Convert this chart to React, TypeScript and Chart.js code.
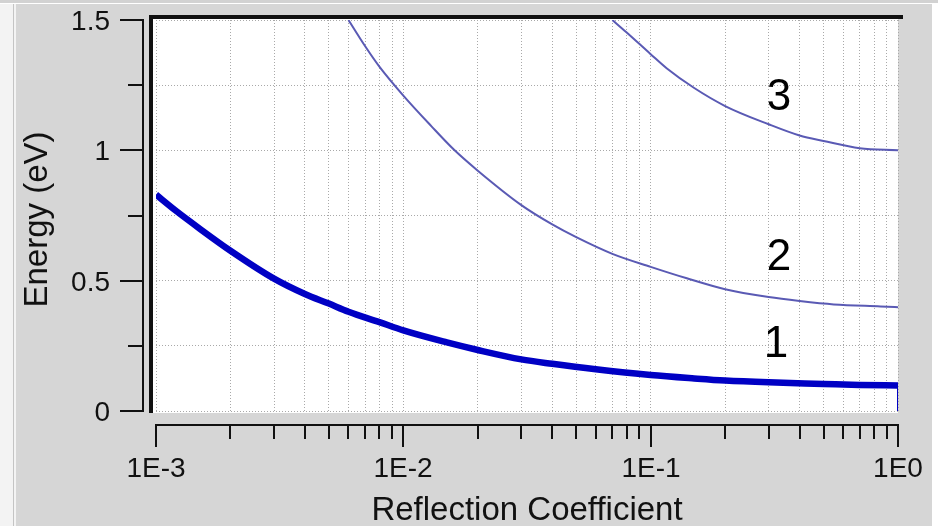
import React, { useEffect, useRef } from 'react';
import { Chart, registerables } from 'chart.js';

Chart.register(...registerables);

// ---- data ----
const curve1R = [0.001, 0.0012, 0.0015, 0.002, 0.003, 0.004, 0.005, 0.006, 0.008, 0.01, 0.015, 0.02, 0.03, 0.04, 0.06, 0.1, 0.15, 0.2, 0.3, 0.5, 0.7, 1];
const curve1E = [0.83, 0.769, 0.7, 0.615, 0.508, 0.449, 0.412, 0.381, 0.341, 0.309, 0.263, 0.234, 0.198, 0.181, 0.16, 0.138, 0.125, 0.117, 0.11, 0.104, 0.1, 0.098];

const curve2R = [0.006, 0.007, 0.008, 0.01, 0.013, 0.016, 0.02, 0.03, 0.04, 0.05, 0.07, 0.1, 0.14, 0.2, 0.3, 0.4, 0.55, 0.85, 1];
const curve2E = [1.5, 1.4, 1.321, 1.21, 1.092, 1.003, 0.922, 0.79, 0.716, 0.667, 0.603, 0.553, 0.509, 0.467, 0.437, 0.422, 0.409, 0.401, 0.398];

const curve3R = [0.07, 0.08, 0.1, 0.116, 0.15, 0.2, 0.3, 0.4, 0.5, 0.7, 1];
const curve3E = [1.5, 1.452, 1.369, 1.315, 1.239, 1.17, 1.1, 1.057, 1.036, 1.008, 1.0];

// vertical drop of curve 1 at R = 1
const dropR = [1, 1];
const dropE = [0.098, 0];

const curveNames = ['1', '2', '3'];

const xMajorValues = [0.001, 0.01, 0.1, 1];
const xTickLabels = ['1E-3', '1E-2', '1E-1', '1E0'];
const xMinorValues = [
  0.002, 0.003, 0.004, 0.005, 0.006, 0.007, 0.008, 0.009,
  0.02, 0.03, 0.04, 0.05, 0.06, 0.07, 0.08, 0.09,
  0.2, 0.3, 0.4, 0.5, 0.6, 0.7, 0.8, 0.9,
];
const yTickValues = [0, 0.25, 0.5, 0.75, 1, 1.25, 1.5];
const yTickLabels = ['0', '', '0.5', '', '1', '', '1.5'];

const xTitle = 'Reflection Coefficient';
const yTitle = 'Energy (eV)';

const FONT = '"Liberation Sans", Arial, Helvetica, sans-serif';

const toPoints = (xs: number[], ys: number[]) => xs.map((x, i) => ({ x, y: ys[i] }));

const framePlugin = {
  id: 'frameAndAxes',
  beforeDraw(chart: any) {
    const { ctx, chartArea: ca, width, height } = chart;
    ctx.save();
    ctx.fillStyle = '#f3f3f3';
    ctx.fillRect(0, 0, width, height);
    ctx.fillStyle = '#d2d2d2';
    ctx.fillRect(0, 0, width, 3);
    ctx.fillStyle = '#ffffff';
    ctx.fillRect(0, 3, width, 1);
    ctx.fillStyle = '#d6d6d6';
    ctx.fillRect(16, 4, 916, height - 4);
    ctx.fillStyle = '#ffffff';
    ctx.fillRect(932, 4, width - 932, height - 4);
    ctx.fillStyle = '#c4c4c4';
    ctx.fillRect(13, 4, 1, height - 4);
    // plot area
    ctx.fillStyle = '#ffffff';
    ctx.fillRect(ca.left - 3, ca.top - 2, ca.right - ca.left + 3, ca.bottom - ca.top + 4);
    ctx.restore();
  },
  afterDraw(chart: any) {
    const { ctx, chartArea: ca } = chart;
    const xs = chart.scales.x;
    const ys = chart.scales.y;
    ctx.save();
    ctx.fillStyle = '#111111';

    // thick frame (top and left)
    ctx.fillRect(ca.left - 7, ca.top - 5, ca.right - ca.left + 12, 4);
    ctx.fillRect(ca.left - 7, ca.top - 5, 4, ca.bottom - ca.top + 7);

    // detached Y axis
    const axX = Math.round(ca.left) - 13;
    const yTop = Math.round(ys.getPixelForValue(yTickValues[yTickValues.length - 1]));
    const yBot = Math.round(ys.getPixelForValue(yTickValues[0]));
    ctx.fillRect(axX - 1, yTop - 1, 2, yBot - yTop + 2);
    ctx.font = '28px ' + FONT;
    ctx.textAlign = 'right';
    ctx.textBaseline = 'alphabetic';
    yTickValues.forEach((v, i) => {
      const py = Math.round(ys.getPixelForValue(v));
      const major = yTickLabels[i] !== '';
      const len = major ? 23 : 15;
      ctx.fillRect(axX - len, py - 1, len, 2);
      if (major) ctx.fillText(yTickLabels[i], axX - 33, py + 10);
    });

    // detached X axis
    const axY = Math.round(ca.bottom) + 14;
    const xL = Math.round(xs.getPixelForValue(xMajorValues[0]));
    const xR = Math.round(xs.getPixelForValue(xMajorValues[xMajorValues.length - 1]));
    ctx.fillRect(xL - 1, axY - 1, xR - xL + 2, 2);
    xMinorValues.forEach((v) => {
      const px = Math.round(xs.getPixelForValue(v));
      ctx.fillRect(px - 1, axY - 1, 2, 15);
    });
    ctx.textAlign = 'center';
    xMajorValues.forEach((v, i) => {
      const px = Math.round(xs.getPixelForValue(v));
      ctx.fillRect(px - 1, axY - 1, 2, 23);
      ctx.fillText(xTickLabels[i], px, axY + 52);
    });

    // axis titles
    ctx.font = '33px ' + FONT;
    ctx.fillText(xTitle, (xL + xR) / 2, axY + 95);
    ctx.save();
    ctx.translate(47, (yTop + yBot) / 2 + 4);
    ctx.rotate(-Math.PI / 2);
    ctx.textAlign = 'center';
    ctx.fillText(yTitle, 0, 0);
    ctx.restore();

    // curve labels
    ctx.font = '44px ' + FONT;
    ctx.fillStyle = '#000000';
    ctx.textAlign = 'center';
    const labelX = xs.getPixelForValue(0.33);
    const labelE = [0.208, 0.541, 1.155];
    curveNames.forEach((n, i) => {
      ctx.fillText(n, labelX + (n === '1' ? -3 : 0), ys.getPixelForValue(labelE[i]));
    });
    ctx.restore();
  },
};

export default function App() {
  const canvasRef = useRef<HTMLCanvasElement | null>(null);

  useEffect(() => {
    const canvas = canvasRef.current;
    if (!canvas) return;
    const gridStyle = {
      color: '#a9a9a9',
      lineWidth: 1,
      drawTicks: false,
    };
    const chart = new Chart(canvas, {
      type: 'line',
      data: {
        datasets: [
          {
            label: curveNames[0],
            data: toPoints(curve1R, curve1E),
            borderColor: '#0000c4',
            borderWidth: 6.5,
            pointRadius: 0,
            cubicInterpolationMode: 'monotone',
            borderJoinStyle: 'round',
          },
          {
            label: 'drop',
            data: toPoints(dropR, dropE),
            borderColor: '#0000c4',
            borderWidth: 2,
            pointRadius: 0,
          },
          {
            label: curveNames[1],
            data: toPoints(curve2R, curve2E),
            borderColor: '#5a5ab4',
            borderWidth: 2,
            pointRadius: 0,
            cubicInterpolationMode: 'monotone',
          },
          {
            label: curveNames[2],
            data: toPoints(curve3R, curve3E),
            borderColor: '#5a5ab4',
            borderWidth: 2,
            pointRadius: 0,
            cubicInterpolationMode: 'monotone',
          },
        ],
      },
      options: {
        responsive: false,
        animation: false,
        devicePixelRatio: 1,
        layout: { padding: { left: 156, right: 40, top: 20, bottom: 115 } },
        plugins: {
          legend: { display: false },
          tooltip: { enabled: false },
        },
        scales: {
          x: {
            type: 'logarithmic',
            min: xMajorValues[0],
            max: xMajorValues[xMajorValues.length - 1],
            afterBuildTicks: (s: any) => {
              s.ticks = [...xMajorValues, ...xMinorValues]
                .sort((a, b) => a - b)
                .map((v) => ({ value: v }));
            },
            ticks: { display: false },
            grid: gridStyle,
            border: { display: false, dash: [1, 2] },
          },
          y: {
            type: 'linear',
            min: yTickValues[0],
            max: yTickValues[yTickValues.length - 1],
            afterBuildTicks: (s: any) => {
              s.ticks = yTickValues.map((v) => ({ value: v }));
            },
            ticks: { display: false },
            grid: gridStyle,
            border: { display: false, dash: [1, 2] },
          },
        },
      } as any,
      plugins: [framePlugin],
    });
    return () => chart.destroy();
  }, []);

  return (
    <div style={{ position: 'absolute', left: 0, top: 0, width: 938, height: 526 }}>
      <canvas ref={canvasRef} width={938} height={526} style={{ display: 'block', width: 938, height: 526 }} />
    </div>
  );
}
